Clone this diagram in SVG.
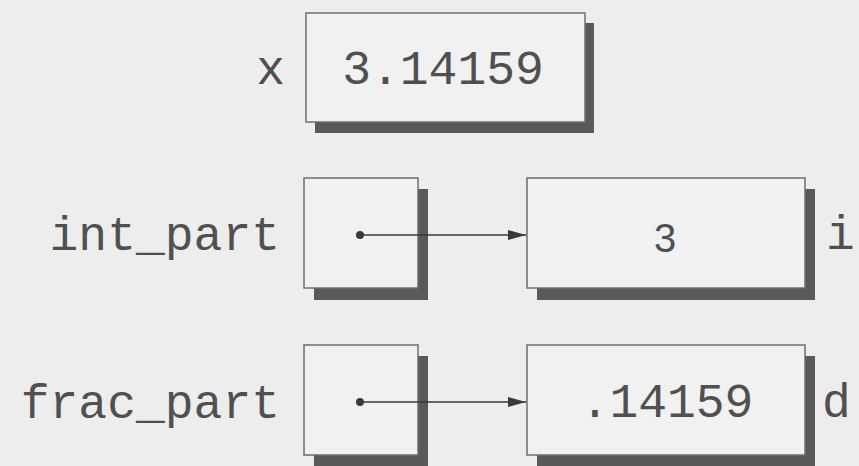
<svg xmlns="http://www.w3.org/2000/svg" width="859" height="466" viewBox="0 0 859 466">
<defs>
<marker id="ah" markerWidth="18" markerHeight="10" refX="18" refY="5" orient="auto" markerUnits="userSpaceOnUse">
<path d="M0,0 L18,5 L0,10 Z" fill="#3a3a3a"/>
</marker>
</defs>
<style>
.bg{fill:#ededed}
.box{fill:#f1f1f1;stroke:#6e6e6e;stroke-width:1.5}
.sh{fill:#595959}
.t{font-family:"Liberation Mono","Courier New",monospace;font-size:48px;fill:#505050}
.s{font-family:"Liberation Sans",Arial,sans-serif;font-size:40px;fill:#505050}
.c{stroke:#3a3a3a;stroke-width:1.5;fill:none}
.dot{fill:#3a3a3a}
</style>
<rect class="bg" x="0" y="0" width="859" height="466"/>
<g id="x">
<text class="t" x="285" y="84" text-anchor="end">x</text>
<rect class="sh" x="315" y="23" width="279" height="110"/>
<rect class="box" x="306" y="13" width="279" height="109"/>
<text class="t" x="443" y="84" text-anchor="middle">3.14159</text>
</g>
<g id="int_part">
<text class="t" x="280" y="250" text-anchor="end">int_part</text>
<rect class="sh" x="314" y="189" width="114" height="111"/>
<rect class="box" x="304" y="178" width="114" height="110"/>
</g>
<g id="int_val">
<rect class="sh" x="537" y="189" width="278" height="111"/>
<rect class="box" x="527" y="178" width="278" height="110"/>
<text class="s" x="665" y="252" text-anchor="middle">3</text>
<text class="t" x="826" y="249">i</text>
</g>
<g id="frac_part">
<text class="t" x="280" y="418" text-anchor="end">frac_part</text>
<rect class="sh" x="314" y="356" width="114" height="111"/>
<rect class="box" x="304" y="345" width="114" height="110"/>
</g>
<g id="frac_val">
<rect class="sh" x="537" y="356" width="278" height="111"/>
<rect class="box" x="527" y="345" width="278" height="110"/>
<text class="t" x="667" y="417" text-anchor="middle">.14159</text>
<text class="t" x="822" y="417">d</text>
</g>
<g id="connectors">
<circle class="dot" cx="360" cy="235" r="4"/>
<line class="c" x1="360" y1="235" x2="526" y2="235" marker-end="url(#ah)"/>
<circle class="dot" cx="360" cy="402" r="4"/>
<line class="c" x1="360" y1="402" x2="526" y2="402" marker-end="url(#ah)"/>
</g>
</svg>
